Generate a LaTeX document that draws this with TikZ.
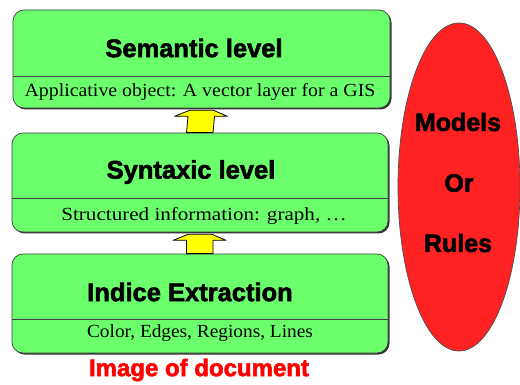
\documentclass[tikz,border=0pt]{standalone}
\usepackage{fontspec}
\setmainfont{Liberation Serif}
\setsansfont{Liberation Sans}
\newfontfamily\heavyfont{Liberation Sans Bold}[FakeBold=2.2]
\usetikzlibrary{calc}

\definecolor{levelgreen}{RGB}{108,255,108}
\definecolor{modelred}{RGB}{255,34,34}
\definecolor{arrowyellow}{RGB}{255,255,0}

\newcommand{\widen}[2]{\scalebox{#1}[1]{#2}}

\begin{document}
\begin{tikzpicture}[x=1pt,y=-1pt,
  levelbox/.style={draw=black!75, line width=0.7pt, fill=levelgreen,
    rounded corners=11pt, inner sep=0pt, minimum width=376, minimum height=98},
  boxshadow/.style={fill=black!80, rounded corners=11pt},
  titletext/.style={font=\heavyfont\fontsize{25.5}{30}\selectfont, inner sep=0pt},
  subtext/.style={font=\fontsize{18.5}{22}\selectfont, inner sep=0pt},
  divider/.style={draw=black!75, line width=0.8pt},
  uparrow/.style={draw=black, line width=0.8pt, fill=arrowyellow, line join=round},
  bigtext/.style={font=\heavyfont\fontsize{24}{28}\selectfont, inner sep=0pt},
  ellipsetext/.style={font=\heavyfont\fontsize{25}{30}\selectfont, inner sep=0pt}
]
\useasboundingbox (0,0) rectangle (520,385);

% drop shadows of the three level boxes
\fill[boxshadow] (14.5,11.5) rectangle (391.5,109.5);
\fill[boxshadow] (13.5,134.5) rectangle (389.5,233.5);
\fill[boxshadow] (13.5,255.5) rectangle (389.5,354.5);

% level boxes
\node[levelbox, minimum width=377] (sem) at (201.5,59) {};
\node[levelbox, minimum height=99] (syn) at (200,182.5) {};
\node[levelbox, minimum height=99] (ind) at (200,303.5) {};

% dividers between title and description
\coordinate (semdiv) at (0,76);
\coordinate (syndiv) at (0,198);
\coordinate (inddiv) at (0,319);
\draw[divider] (sem.west |- semdiv) -- (sem.east |- semdiv);
\draw[divider] (syn.west |- syndiv) -- (syn.east |- syndiv);
\draw[divider] (ind.west |- inddiv) -- (ind.east |- inddiv);

% titles
\node[titletext] (semt) at (194,48) {Semantic level};
\node[titletext] (synt) at (191,172) {Syntaxic level};
\node[titletext] (indt) at (190,292) {Indice Extraction};

% descriptions
\node[subtext] (semd) at (200,92) {\widen{1.074}{Applicative object: A vector layer for a GIS}};
\node[subtext] (synd) at (204,216) {\widen{1.14}{Structured information: graph, \dots}};
\node[subtext] (indd) at (200,333) {\widen{1.045}{Color, Edges, Regions, Lines}};

% block arrows between the levels
\foreach \lo/\hi in {syn/sem, ind/syn}{
  \draw[uparrow]
    ($(\lo.north)+(-13.5,0)$) -- ($(\hi.south)+(-13.5,8)$)
    -- ($(\hi.south)+(-27,8)$) -- ($(\hi.south)+(-12,2)$)
    -- ($(\hi.south)+(12,2)$) -- ($(\hi.south)+(26,8)$)
    -- ($(\hi.south)+(13,8)$) -- ($(\lo.north)+(13,0)$) -- cycle;
}

% input label
\node[bigtext, text=red] (img) at (199,370) {Image of document};

% models / rules ellipse
\draw[draw=black!70, line width=0.7pt, fill=modelred]
  (459,187) ellipse [x radius=61, y radius=164];
\node[ellipsetext] (models) at (458,122) {Models};
\node[ellipsetext] (or) at (459,183) {Or};
\node[ellipsetext] (rules) at (458,243) {Rules};
\end{tikzpicture}
\end{document}
